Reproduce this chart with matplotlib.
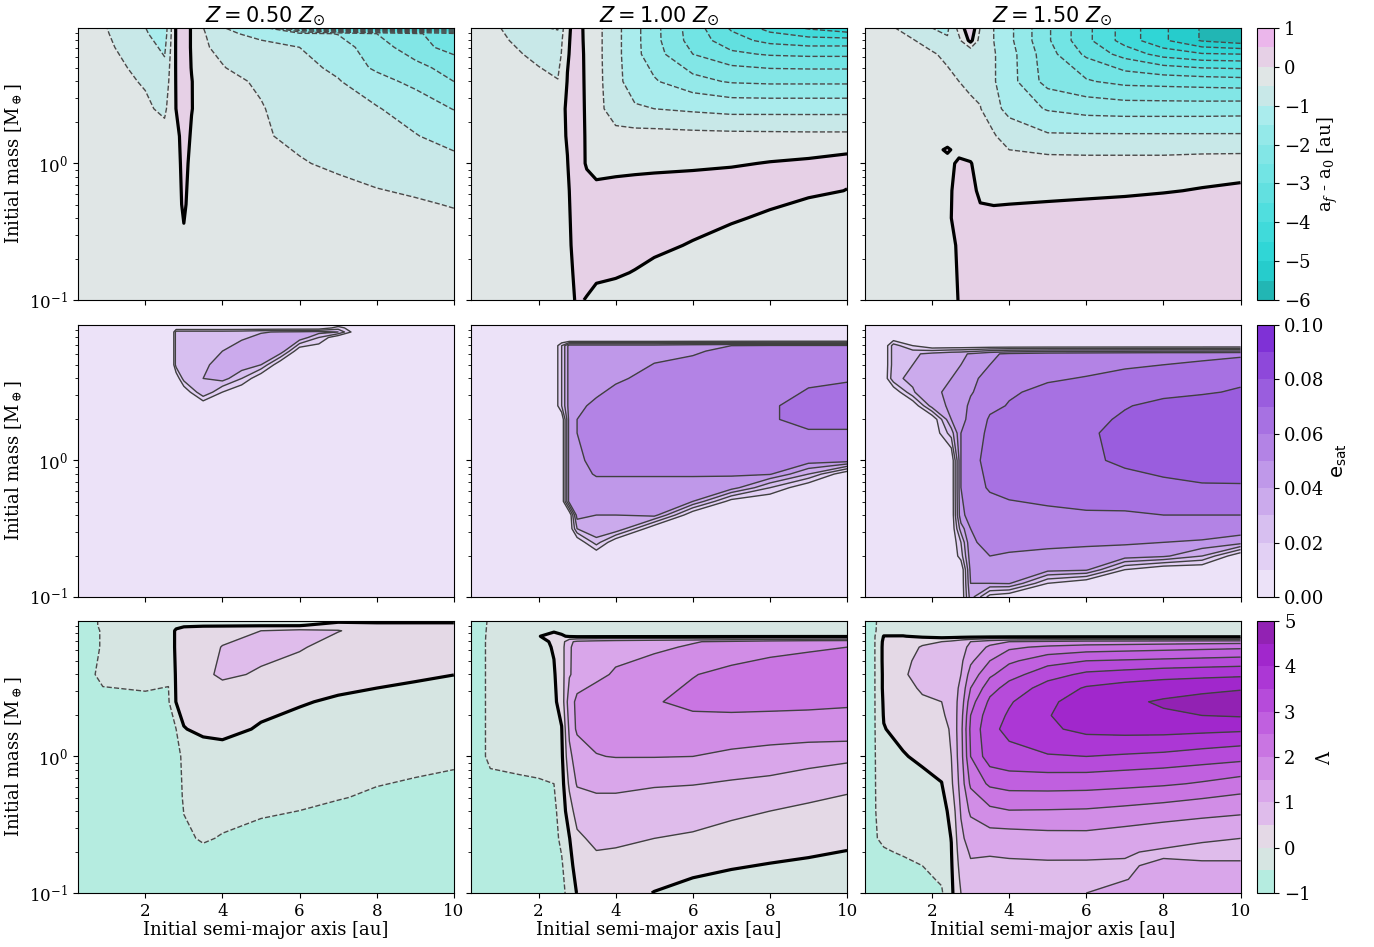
import numpy as np
import matplotlib.pyplot as plt

plt.rcParams['font.family'] = 'DejaVu Serif'
plt.rcParams['mathtext.fontset'] = 'dejavuserif'

titles = ['$Z = 0.50\\ Z_{\\odot}$', '$Z = 1.00\\ Z_{\\odot}$', '$Z = 1.50\\ Z_{\\odot}$']

# ================= a_f - a_0 [au] =================
a_da_05 = [0.25, 1.0, 2.0, 2.5, 2.8, 3.0, 3.2, 3.5, 4.0, 5.0, 6.0, 7.0, 8.0, 9.0, 10.0]
logm_da_05 = [-1.0, -0.6, -0.3, 0.0, 0.2, 0.4, 0.6, 0.7, 0.85, 0.95, 1.0]
da_05 = [
    [-0.05, -0.05, -0.08, -0.1, -0.12, -0.12, -0.12, -0.1, -0.1, -0.1, -0.12, -0.14, -0.16, -0.18, -0.2],
    [-0.05, -0.05, -0.08, -0.1, -0.12, -0.05, -0.12, -0.12, -0.12, -0.15, -0.2, -0.24, -0.28, -0.32, -0.36],
    [-0.05, -0.05, -0.1, -0.12, -0.15, 0.06, -0.15, -0.15, -0.2, -0.25, -0.3, -0.36, -0.42, -0.46, -0.52],
    [-0.05, -0.08, -0.15, -0.2, -0.15, 0.12, -0.1, -0.2, -0.25, -0.35, -0.47, -0.57, -0.67, -0.78, -0.9],
    [-0.08, -0.12, -0.25, -0.35, -0.15, 0.2, -0.05, -0.25, -0.3, -0.45, -0.6, -0.75, -0.88, -0.98, -1.15],
    [-0.1, -0.2, -0.42, -0.6, 0.01, 0.25, 0.02, -0.25, -0.3, -0.48, -0.65, -0.82, -0.97, -1.2, -1.52],
    [-0.15, -0.3, -0.55, -0.8, 0.03, 0.3, 0.02, -0.3, -0.4, -0.55, -0.8, -0.97, -1.3, -1.65, -2.0],
    [-0.18, -0.36, -0.62, -0.9, 0.04, 0.3, -0.02, -0.35, -0.48, -0.7, -0.85, -1.1, -1.6, -1.85, -2.2],
    [-0.22, -0.42, -0.8, -1.1, 0.05, 0.3, -0.05, -0.45, -0.6, -0.8, -1.0, -1.3, -1.75, -2.3, -2.7],
    [-0.28, -0.47, -0.95, -1.25, 0.05, 0.3, -0.05, -0.45, -0.85, -1.2, -1.35, -1.52, -2.0, -2.4, -2.9],
    [-0.3, -0.5, -1.0, -1.3, 0.05, 0.3, -0.05, -0.5, -1.0, -1.5, -4.0, -6.0, -6.0, -6.0, -6.0],
]

a_da_10 = [0.25, 1.0, 2.0, 2.5, 2.75, 3.0, 3.25, 3.5, 4.0, 4.5, 5.0, 6.0, 7.0, 8.0, 9.0, 10.0]
logm_da_10 = [-1.0, -0.8, -0.6, -0.4, -0.2, 0.0, 0.2, 0.4, 0.6, 0.8, 0.9, 1.0]
da_10 = [
    [-0.05, -0.05, -0.1, -0.12, -0.15, 0.05, -0.02, -0.1, -0.15, -0.2, -0.2, -0.2, -0.2, -0.2, -0.2, -0.2],
    [-0.05, -0.05, -0.1, -0.12, -0.15, 0.12, 0.15, 0.08, 0.05, -0.02, -0.1, -0.2, -0.2, -0.2, -0.2, -0.2],
    [-0.05, -0.05, -0.1, -0.12, -0.12, 0.2, 0.2, 0.2, 0.2, 0.2, 0.1, -0.035, -0.15, -0.2, -0.2, -0.2],
    [-0.05, -0.05, -0.1, -0.12, -0.1, 0.25, 0.2, 0.2, 0.2, 0.2, 0.2, 0.2, 0.05, -0.07, -0.23, -0.2],
    [-0.05, -0.08, -0.12, -0.13, -0.06, 0.25, 0.15, 0.15, 0.25, 0.25, 0.25, 0.25, 0.2, 0.2, 0.1, -0.01],
    [-0.05, -0.1, -0.15, -0.15, -0.01, 0.25, -0.05, -0.28, -0.3, -0.22, -0.17, -0.11, -0.04, 0.02, 0.07, 0.17],
    [-0.08, -0.12, -0.2, -0.15, 0.03, 0.25, -0.06, -0.25, -0.35, -0.35, -0.35, -0.37, -0.38, -0.39, -0.4, -0.4],
    [-0.1, -0.2, -0.3, -0.16, 0.05, 0.25, -0.08, -0.3, -0.8, -0.95, -1.0, -1.1, -1.2, -1.2, -1.2, -1.2],
    [-0.15, -0.25, -0.4, -0.48, 0.02, 0.25, -0.1, -0.33, -0.85, -1.25, -1.45, -1.85, -2.05, -2.1, -2.1, -2.1],
    [-0.2, -0.35, -0.6, -0.75, -0.05, 0.25, -0.12, -0.35, -0.85, -1.35, -1.8, -2.5, -2.9, -3.05, -3.1, -3.1],
    [-0.25, -0.42, -0.75, -0.85, -0.08, 0.25, -0.15, -0.35, -0.85, -1.35, -1.85, -2.7, -3.3, -3.65, -3.8, -3.8],
    [-0.3, -0.5, -0.98, -1.05, -0.12, 0.25, -0.17, -0.35, -0.85, -1.35, -1.85, -2.75, -3.6, -4.25, -4.65, -5.0],
]

a_da_15 = [0.25, 1.0, 1.5, 2.0, 2.4, 2.7, 3.0, 3.25, 3.6, 4.0, 5.0, 6.0, 7.0, 8.0, 9.0, 10.0]
logm_da_15 = [-1.0, -0.6, -0.4, -0.2, 0.0, 0.1, 0.2, 0.4, 0.6, 0.8, 0.9, 1.0]
da_15 = [
    [-0.05, -0.05, -0.05, -0.08, -0.1, 0.01, 0.25, 0.25, 0.25, 0.25, 0.25, 0.25, 0.25, 0.25, 0.25, 0.25],
    [-0.05, -0.05, -0.05, -0.08, -0.1, 0.04, 0.25, 0.25, 0.25, 0.25, 0.25, 0.25, 0.25, 0.25, 0.25, 0.25],
    [-0.05, -0.05, -0.05, -0.05, -0.05, 0.1, 0.25, 0.1, 0.067, 0.082, 0.098, 0.111, 0.12, 0.18, 0.25, 0.25],
    [-0.05, -0.05, -0.05, -0.05, -0.05, 0.08, 0.15, -0.1, -0.1, -0.1, -0.08, -0.06, -0.04, -0.02, 0.02, 0.05],
    [-0.05, -0.07, -0.08, -0.1, -0.1, 0.06, 0.02, -0.15, -0.2, -0.25, -0.3, -0.3, -0.3, -0.3, -0.2, -0.15],
    [-0.05, -0.08, -0.1, -0.1, 0.04, -0.1, -0.15, -0.2, -0.3, -0.5, -0.62, -0.65, -0.65, -0.65, -0.65, -0.65],
    [-0.06, -0.1, -0.12, -0.15, -0.2, -0.25, -0.3, -0.35, -0.45, -0.75, -0.94, -0.94, -0.94, -0.94, -0.94, -0.94],
    [-0.08, -0.12, -0.15, -0.2, -0.28, -0.35, -0.42, -0.48, -0.85, -1.15, -1.55, -1.72, -1.77, -1.77, -1.77, -1.75],
    [-0.1, -0.18, -0.22, -0.3, -0.4, -0.5, -0.6, -0.65, -0.96, -1.3, -2.2, -2.45, -2.65, -2.7, -2.75, -2.8],
    [-0.15, -0.28, -0.35, -0.45, -0.6, -0.85, -0.95, -0.95, -0.96, -1.3, -2.3, -3.1, -3.7, -4.2, -4.45, -4.5],
    [-0.25, -0.38, -0.47, -0.7, -0.95, -0.6, 0.15, -0.7, -1.0, -1.38, -2.43, -3.37, -4.21, -4.92, -5.55, -5.8],
    [-0.3, -0.5, -0.75, -1.03, -1.1, -0.3, 0.45, -0.5, -1.0, -1.38, -2.43, -3.37, -4.21, -4.92, -5.55, -5.6],
]

# ================= e_sat =================
a_es_05 = [0.25, 2.7, 2.8, 3.0, 3.5, 4.0, 4.5, 5.0, 5.5, 6.0, 6.5, 7.0, 7.5, 10.0]
logm_es_05 = [-1.0, 0.4, 0.5, 0.6, 0.7, 0.8, 0.9, 0.94, 0.97, 1.0]
es_05 = [
    [0, 0, 0, 0, 0, 0, 0, 0, 0, 0, 0, 0, 0, 0],
    [0, 0, 0, 0, 0, 0, 0, 0, 0, 0, 0, 0, 0, 0],
    [0, 0, 0, 0, 0.03, 0.01, 0, 0, 0, 0, 0, 0, 0, 0],
    [0, 0, 0, 0.025, 0.03, 0.035, 0.02, 0, 0, 0, 0, 0, 0, 0],
    [0, 0, 0.025, 0.025, 0.027, 0.036, 0.038, 0.03, 0, 0, 0, 0, 0, 0],
    [0, 0, 0.025, 0.025, 0.025, 0.03, 0.037, 0.038, 0.038, 0, 0, 0, 0, 0],
    [0, 0, 0.025, 0.025, 0.025, 0.025, 0.028, 0.033, 0.036, 0.038, 0.02, 0, 0, 0],
    [0, 0, 0.025, 0.025, 0.025, 0.025, 0.026, 0.029, 0.031, 0.032, 0.034, 0.03, 0, 0],
    [0, 0, 0, 0, 0, 0, 0, 0, 0, 0, 0, 0.015, 0, 0],
    [0, 0, 0, 0, 0, 0, 0, 0, 0, 0, 0, 0, 0, 0],
]

a_es_10 = [0.25, 2.4, 2.6, 2.8, 3.0, 3.5, 4.0, 5.0, 6.0, 7.0, 8.0, 9.0, 10.0]
logm_es_10 = [-1.0, -0.7, -0.6, -0.5, -0.4, -0.3, -0.2, -0.1, 0.0, 0.2, 0.3, 0.4, 0.6, 0.8, 0.84, 0.88, 1.0]
es_10 = [
    [0, 0, 0, 0, 0, 0, 0, 0, 0, 0, 0, 0, 0],
    [0, 0, 0, 0, 0, 0, 0, 0, 0, 0, 0, 0, 0],
    [0, 0, 0, 0, 0, 0.025, 0, 0, 0, 0, 0, 0, 0],
    [0, 0, 0, 0, 0.03, 0.04, 0.04, 0, 0, 0, 0, 0, 0],
    [0, 0, 0, 0, 0.045, 0.04, 0.04, 0.044, 0, 0, 0, 0, 0],
    [0, 0, 0, 0.045, 0.045, 0.043, 0.043, 0.042, 0.04, 0.005, 0, 0, 0],
    [0, 0, 0, 0.045, 0.045, 0.046, 0.046, 0.046, 0.046, 0.045, 0.02, 0, 0],
    [0, 0, 0, 0.045, 0.046, 0.051, 0.051, 0.051, 0.051, 0.051, 0.051, 0.03, 0],
    [0, 0, 0, 0.045, 0.048, 0.053, 0.054, 0.055, 0.055, 0.055, 0.056, 0.056, 0.056],
    [0, 0, 0, 0.045, 0.05, 0.054, 0.055, 0.056, 0.057, 0.058, 0.059, 0.059, 0.058],
    [0, 0, 0, 0.045, 0.05, 0.053, 0.054, 0.056, 0.057, 0.058, 0.059, 0.063, 0.066],
    [0, 0, 0.02, 0.045, 0.049, 0.051, 0.053, 0.055, 0.056, 0.057, 0.059, 0.063, 0.065],
    [0, 0, 0.02, 0.045, 0.046, 0.047, 0.049, 0.052, 0.054, 0.056, 0.057, 0.058, 0.059],
    [0, 0, 0.02, 0.045, 0.045, 0.046, 0.047, 0.048, 0.049, 0.052, 0.054, 0.055, 0.055],
    [0, 0, 0.02, 0.045, 0.045, 0.045, 0.045, 0.045, 0.048, 0.05, 0.052, 0.052, 0.052],
    [0, 0, 0, 0, 0, 0, 0, 0, 0, 0, 0, 0, 0],
    [0, 0, 0, 0, 0, 0, 0, 0, 0, 0, 0, 0, 0],
]

a_es_15 = [0.25, 0.75, 1.0, 1.5, 2.0, 2.5, 2.75, 3.0, 3.5, 4.0, 5.0, 6.0, 7.0, 8.0, 9.0, 10.0]
logm_es_15 = [-1.0, -0.9, -0.8, -0.7, -0.6, -0.5, -0.4, -0.2, 0.0, 0.2, 0.3, 0.4, 0.5, 0.6, 0.7, 0.78, 0.84, 0.9, 1.0]
es_15 = [
    [0, 0, 0, 0, 0, 0, 0, 0.035, 0.005, 0, 0, 0, 0, 0, 0, 0],
    [0, 0, 0, 0, 0, 0, 0, 0.04, 0.04, 0.041, 0.01, 0, 0, 0, 0, 0],
    [0, 0, 0, 0, 0, 0, 0, 0.043, 0.045, 0.046, 0.044, 0.042, 0.01, 0, 0, 0],
    [0, 0, 0, 0, 0, 0, 0.015, 0.046, 0.05, 0.049, 0.048, 0.047, 0.046, 0.042, 0.03, 0],
    [0, 0, 0, 0, 0, 0, 0.02, 0.049, 0.052, 0.053, 0.052, 0.0515, 0.051, 0.05, 0.049, 0.045],
    [0, 0, 0, 0, 0, 0, 0.035, 0.05, 0.054, 0.055, 0.055, 0.055, 0.055, 0.055, 0.055, 0.055],
    [0, 0, 0, 0, 0, 0, 0.048, 0.053, 0.056, 0.057, 0.058, 0.059, 0.059, 0.06, 0.06, 0.06],
    [0, 0, 0, 0, 0, 0, 0.05, 0.056, 0.061, 0.063, 0.065, 0.066, 0.067, 0.068, 0.069, 0.069],
    [0, 0, 0, 0, 0, 0, 0.05, 0.058, 0.062, 0.065, 0.067, 0.0685, 0.0715, 0.074, 0.076, 0.077],
    [0, 0, 0, 0, 0, 0.025, 0.05, 0.055, 0.062, 0.064, 0.067, 0.069, 0.072, 0.075, 0.077, 0.079],
    [0, 0, 0, 0, 0, 0.04, 0.047, 0.053, 0.061, 0.063, 0.066, 0.068, 0.071, 0.074, 0.076, 0.078],
    [0, 0, 0, 0, 0.035, 0.042, 0.046, 0.052, 0.058, 0.0605, 0.064, 0.067, 0.0695, 0.072, 0.074, 0.076],
    [0, 0, 0, 0.029, 0.038, 0.042, 0.045, 0.049, 0.056, 0.059, 0.062, 0.064, 0.066, 0.068, 0.069, 0.071],
    [0, 0, 0.028, 0.032, 0.036, 0.04, 0.044, 0.048, 0.053, 0.056, 0.059, 0.0605, 0.062, 0.064, 0.066, 0.068],
    [0, 0, 0.025, 0.03, 0.034, 0.038, 0.04, 0.043, 0.05, 0.053, 0.055, 0.057, 0.059, 0.06, 0.061, 0.062],
    [0, 0, 0.025, 0.028, 0.033, 0.037, 0.038, 0.041, 0.048, 0.052, 0.055, 0.056, 0.057, 0.058, 0.058, 0.059],
    [0, 0, 0.025, 0.01, 0, 0, 0, 0, 0, 0, 0, 0, 0, 0, 0, 0],
    [0, 0, 0, 0, 0, 0, 0, 0, 0, 0, 0, 0, 0, 0, 0, 0],
    [0, 0, 0, 0, 0, 0, 0, 0, 0, 0, 0, 0, 0, 0, 0, 0],
]

# ================= Lambda =================
a_lam_05 = [0.25, 0.5, 0.9, 2.0, 2.6, 2.8, 3.0, 3.5, 4.0, 5.0, 6.0, 7.0, 8.0, 9.0, 10.0]
logm_lam_05 = [-1.0, -0.6, -0.3, 0.0, 0.2, 0.4, 0.6, 0.8, 0.92, 0.96, 1.0]
lam_05 = [
    [-0.7, -0.7, -0.7, -0.7, -0.7, -0.7, -0.7, -0.7, -0.7, -0.7, -0.7, -0.7, -0.7, -0.7, -0.7],
    [-0.7, -0.7, -0.7, -0.7, -0.7, -0.7, -0.55, -0.47, -0.52, -0.6, -0.65, -0.7, -0.7, -0.7, -0.7],
    [-0.7, -0.7, -0.7, -0.7, -0.7, -0.7, -0.45, -0.3, -0.3, -0.35, -0.4, -0.48, -0.55, -0.6, -0.65],
    [-0.7, -0.7, -0.7, -0.7, -0.7, -0.65, -0.4, -0.2, -0.15, -0.15, -0.2, -0.25, -0.3, -0.35, -0.4],
    [-0.7, -0.7, -0.7, -0.65, -0.6, -0.5, -0.02, 0.1, 0.12, -0.04, -0.1, -0.15, -0.2, -0.23, -0.25],
    [-0.7, -0.7, -0.6, -0.55, -0.55, 0.02, 0.2, 0.25, 0.25, 0.15, 0.03, -0.05, -0.12, -0.18, -0.22],
    [-0.7, -0.6, -0.4, -0.4, -0.45, 0.05, 0.25, 0.4, 0.58, 0.45, 0.3, 0.2, 0.15, 0.08, 0.005],
    [-0.7, -0.7, -0.45, -0.35, -0.2, 0.05, 0.25, 0.3, 0.52, 0.65, 0.55, 0.3, 0.25, 0.25, 0.25],
    [-0.7, -0.7, -0.45, -0.3, -0.2, 0.05, 0.25, 0.25, 0.3, 0.5, 0.62, 0.52, 0.3, 0.25, 0.25],
    [-0.7, -0.7, -0.4, -0.25, -0.25, -0.1, -0.1, -0.05, -0.05, -0.05, -0.05, 0.3, 0.2, 0.2, 0.2],
    [-0.7, -0.7, -0.4, -0.25, -0.25, -0.25, -0.25, -0.25, -0.25, -0.25, -0.25, -0.25, -0.25, -0.25, -0.25],
]

a_lam_10 = [0.25, 0.5, 0.75, 1.5, 2.0, 2.4, 2.6, 2.8, 3.0, 3.5, 4.0, 5.0, 6.0, 7.0, 8.0, 9.0, 10.0]
logm_lam_10 = [-1.0, -0.8, -0.6, -0.4, -0.2, 0.0, 0.2, 0.4, 0.6, 0.8, 0.84, 0.88, 0.92, 1.0]
lam_10 = [
    [-0.7, -0.7, -0.7, -0.7, -0.7, -0.7, -0.7, -0.25, 0.02, 0.15, 0.15, -0.01, -0.1, -0.15, -0.2, -0.2, -0.2],
    [-0.7, -0.7, -0.7, -0.7, -0.7, -0.7, -0.55, -0.2, 0.25, 0.4, 0.35, 0.2, 0.1, 0.03, -0.02, -0.05, -0.1],
    [-0.7, -0.7, -0.7, -0.7, -0.7, -0.65, -0.4, -0.02, 0.42, 0.6, 0.6, 0.5, 0.45, 0.35, 0.25, 0.15, 0.1],
    [-0.7, -0.7, -0.7, -0.7, -0.7, -0.6, -0.3, 0.3, 0.7, 0.85, 0.85, 0.75, 0.7, 0.6, 0.5, 0.4, 0.35],
    [-0.7, -0.7, -0.7, -0.6, -0.55, -0.5, -0.2, 0.6, 1.05, 1.1, 1.1, 1.05, 1.02, 0.95, 0.9, 0.8, 0.62],
    [-0.7, -0.7, -0.3, -0.25, -0.25, -0.25, -0.1, 0.9, 1.2, 1.48, 1.52, 1.52, 1.5, 1.4, 1.3, 1.2, 1.15],
    [-0.7, -0.7, -0.3, -0.25, -0.25, -0.2, -0.02, 1.1, 1.6, 1.7, 1.75, 1.8, 1.85, 1.85, 1.85, 1.85, 1.85],
    [-0.7, -0.7, -0.3, -0.25, -0.25, -0.1, 0.2, 1.3, 1.6, 1.7, 1.8, 1.97, 2.1, 2.12, 2.1, 2.08, 2.05],
    [-0.7, -0.7, -0.3, -0.25, -0.25, -0.05, 0.3, 0.95, 1.2, 1.4, 1.55, 1.7, 1.98, 2.12, 2.2, 2.25, 2.3],
    [-0.7, -0.7, -0.3, -0.25, -0.22, 0.05, 0.3, 0.95, 1.15, 1.25, 1.33, 1.42, 1.55, 1.7, 1.85, 1.93, 2.0],
    [-0.7, -0.7, -0.3, -0.25, -0.2, 0.1, 0.25, 0.9, 1.1, 1.2, 1.28, 1.38, 1.47, 1.6, 1.75, 1.85, 1.9],
    [-0.7, -0.7, -0.32, -0.25, -0.02, 0.15, 0.05, -0.05, -0.1, -0.1, -0.1, -0.1, -0.1, -0.1, -0.1, -0.1, -0.1],
    [-0.7, -0.7, -0.35, -0.25, -0.1, -0.05, -0.1, -0.15, -0.2, -0.2, -0.2, -0.2, -0.2, -0.2, -0.2, -0.2, -0.2],
    [-0.7, -0.7, -0.4, -0.25, -0.25, -0.25, -0.25, -0.25, -0.25, -0.25, -0.25, -0.25, -0.25, -0.25, -0.25, -0.25, -0.25],
]

a_lam_15 = [0.25, 0.5, 0.75, 1.25, 1.75, 2.25, 2.5, 2.75, 3.0, 3.5, 4.0, 5.0, 6.0, 7.0, 8.0, 9.0, 10.0]
logm_lam_15 = [-1.0, -0.9, -0.8, -0.7, -0.6, -0.4, -0.2, 0.0, 0.2, 0.3, 0.4, 0.5, 0.6, 0.7, 0.8, 0.84, 0.88, 0.92, 1.0]
lam_15 = [
    [-0.7, -0.7, -0.7, -0.7, -0.7, -0.55, -0.1, 0.5, 0.85, 0.85, 0.85, 0.95, 1.0, 1.1, 1.2, 1.25, 1.3],
    [-0.7, -0.7, -0.7, -0.7, -0.6, -0.45, -0.08, 0.6, 0.9, 0.85, 0.85, 0.9, 0.92, 0.99, 1.1, 1.15, 1.2],
    [-0.7, -0.7, -0.7, -0.6, -0.5, -0.35, -0.05, 0.7, 0.95, 0.9, 0.9, 0.94, 0.95, 0.97, 1.05, 1.05, 1.05],
    [-0.7, -0.7, -0.55, -0.45, -0.35, -0.3, -0.02, 0.8, 1.05, 1.05, 1.1, 1.1, 1.08, 1.03, 0.95, 0.9, 0.9],
    [-0.7, -0.55, -0.4, -0.3, -0.3, -0.25, 0.01, 0.9, 1.2, 1.3, 1.3, 1.35, 1.36, 1.27, 1.15, 1.05, 1.0],
    [-0.7, -0.55, -0.25, -0.25, -0.25, -0.2, 0.15, 1.05, 1.6, 1.9, 1.98, 1.97, 1.95, 1.88, 1.8, 1.7, 1.6],
    [-0.7, -0.55, -0.2, -0.2, -0.1, -0.01, 0.4, 1.2, 2.1, 2.6, 2.72, 2.74, 2.72, 2.65, 2.57, 2.45, 2.3],
    [-0.7, -0.55, -0.15, -0.03, 0.08, 0.2, 0.5, 1.3, 2.5, 3.3, 3.4, 3.47, 3.5, 3.45, 3.4, 3.3, 3.2],
    [-0.7, -0.55, -0.02, 0.15, 0.25, 0.35, 0.55, 1.35, 2.6, 3.4, 3.6, 3.9, 4.15, 4.2, 4.2, 4.15, 4.1],
    [-0.7, -0.55, 0.03, 0.25, 0.35, 0.45, 0.6, 1.3, 2.5, 3.3, 3.55, 3.97, 4.3, 4.4, 4.45, 4.5, 4.55],
    [-0.7, -0.55, 0.06, 0.35, 0.48, 0.5, 0.7, 1.2, 2.3, 3.1, 3.45, 3.9, 4.25, 4.42, 4.55, 4.65, 4.75],
    [-0.7, -0.55, 0.1, 0.45, 0.52, 0.55, 0.75, 1.1, 2.0, 2.8, 3.2, 3.7, 4.05, 4.2, 4.3, 4.38, 4.45],
    [-0.7, -0.55, 0.1, 0.48, 0.56, 0.6, 0.75, 1.0, 1.7, 2.4, 2.8, 3.3, 3.6, 3.7, 3.8, 3.85, 3.9],
    [-0.7, -0.55, 0.12, 0.45, 0.56, 0.6, 0.7, 0.9, 1.4, 2.0, 2.4, 2.8, 3.0, 3.05, 3.1, 3.15, 3.2],
    [-0.7, -0.55, 0.12, 0.4, 0.52, 0.55, 0.65, 0.85, 1.1, 1.6, 1.9, 2.1, 2.2, 2.25, 2.3, 2.35, 2.4],
    [-0.7, -0.55, 0.1, 0.35, 0.45, 0.5, 0.6, 0.8, 1.0, 1.3, 1.5, 1.6, 1.7, 1.72, 1.75, 1.78, 1.8],
    [-0.7, -0.55, 0.02, 0.02, -0.1, -0.2, -0.2, -0.2, -0.2, -0.2, -0.2, -0.2, -0.2, -0.2, -0.2, -0.2, -0.2],
    [-0.7, -0.55, -0.3, -0.25, -0.25, -0.25, -0.25, -0.25, -0.25, -0.25, -0.25, -0.25, -0.25, -0.25, -0.25, -0.25, -0.25],
    [-0.7, -0.55, -0.35, -0.25, -0.25, -0.25, -0.25, -0.25, -0.25, -0.25, -0.25, -0.25, -0.25, -0.25, -0.25, -0.25, -0.25],
]

# ---- colours / levels ----
lev_da = np.arange(-6, 1.01, 0.5)
col_da = ['#22b6b4', '#26cccc', '#30d6d6', '#40dada', '#50dede', '#62e0e0', '#72e4e4',
          '#82e6e6', '#94e9e9', '#aaeced', '#c8e8e8', '#e0e6e6', '#e6d0e6', '#ebb6eb']
lev_es = np.arange(0, 0.1001, 0.01)
col_es = ['#ece2f8', '#e2d0f4', '#d7bff0', '#cbaaec', '#bf98e9', '#b383e5', '#a771e2',
          '#9a5dde', '#8e48da', '#7f31d6']
lev_lam = np.arange(-1, 5.01, 0.5)
col_lam = ['#b5ece0', '#d6e5e2', '#e4d9e6', '#dfbceb', '#d9a6ea', '#d18de6', '#c975e2',
           '#c060df', '#b64bda', '#ac37d5', '#a127cc', '#9222b3']

rows = [
    dict(data=[(a_da_05, logm_da_05, da_05), (a_da_10, logm_da_10, da_10), (a_da_15, logm_da_15, da_15)],
         lev=lev_da, col=col_da, dashed=[l for l in lev_da if l < 0], solid=[], black=True,
         ticks=np.arange(-6, 2, 1), fmt=None, label='a$_f$ - a$_0$ [au]'),
    dict(data=[(a_es_05, logm_es_05, es_05), (a_es_10, logm_es_10, es_10), (a_es_15, logm_es_15, es_15)],
         lev=lev_es, col=col_es, dashed=[], solid=list(lev_es[1:]), black=False,
         ticks=np.arange(0, 0.101, 0.02), fmt='%.2f', label='e$_{\\rm sat}$'),
    dict(data=[(a_lam_05, logm_lam_05, lam_05), (a_lam_10, logm_lam_10, lam_10), (a_lam_15, logm_lam_15, lam_15)],
         lev=lev_lam, col=col_lam, dashed=[-0.5], solid=list(lev_lam[3:]), black=True,
         ticks=np.arange(-1, 6, 1), fmt=None, label='$\\Lambda$'),
]

fig = plt.figure(figsize=(13.74, 9.47), dpi=100)
lefts = [0.0566, 0.3428, 0.6292]
bottoms = [0.6832, 0.3696, 0.0570]
w, h = 0.2737, 0.2872

for i, r in enumerate(rows):
    for j, (a, lm, z) in enumerate(r['data']):
        ax = fig.add_axes([lefts[j], bottoms[i], w, h])
        X, Y = np.meshgrid(a, 10 ** np.array(lm))
        Z = np.array(z)
        cf = ax.contourf(X, Y, Z, levels=r['lev'], colors=r['col'])
        if r['dashed']:
            ax.contour(X, Y, Z, levels=r['dashed'], colors='#4a4a4a', linewidths=1.0, linestyles='--')
        if r['solid']:
            ax.contour(X, Y, Z, levels=r['solid'], colors='#404040', linewidths=1.0, linestyles='-')
        if r['black']:
            ax.contour(X, Y, Z, levels=[0], colors='k', linewidths=2.3)
        ax.set_yscale('log')
        ax.set_xlim(0.25, 10)
        ax.set_ylim(0.1, 9.8)
        ax.set_xticks([2, 4, 6, 8, 10])
        ax.tick_params(labelsize=12)
        if i == 0:
            ax.set_title(titles[j], fontsize=15, family='DejaVu Sans', math_fontfamily='dejavusans', pad=4)
        if i == 2:
            ax.set_xlabel('Initial semi-major axis [au]', fontsize=13, labelpad=1)
        else:
            ax.tick_params(labelbottom=False)
        if j == 0:
            ax.set_ylabel('Initial mass [M$_\\oplus$]', fontsize=13)
        else:
            ax.tick_params(labelleft=False)
    cax = fig.add_axes([0.9151, bottoms[i], 0.0124, h])
    cb = fig.colorbar(cf, cax=cax, ticks=r['ticks'], format=r['fmt'])
    cb.ax.tick_params(labelsize=13)
    if i == 1:
        cb.set_label(r['label'], fontsize=14, family='DejaVu Sans', math_fontfamily='dejavusans')
    else:
        cb.set_label(r['label'], fontsize=13)

fig.savefig('out.png', dpi=100)
